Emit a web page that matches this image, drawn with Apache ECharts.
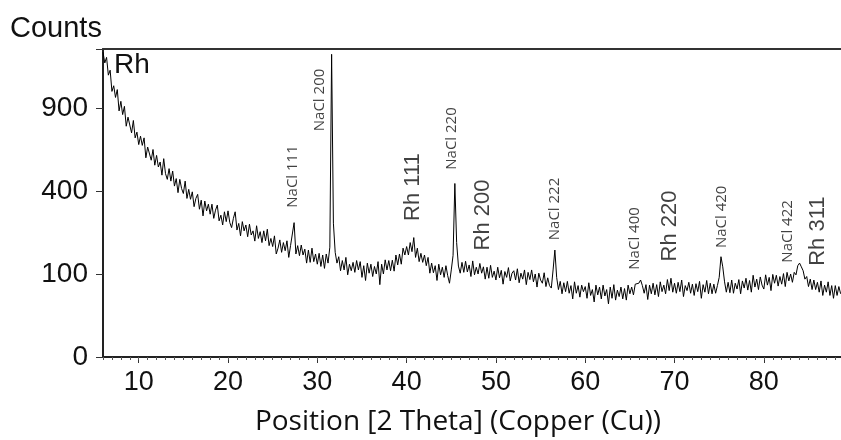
<!DOCTYPE html>
<html><head><meta charset="utf-8">
<script src="https://cdn.jsdelivr.net/npm/echarts@6/dist/echarts.min.js"></script>
<style>html,body{margin:0;padding:0;background:#fff}#c{width:841px;height:440px}</style>
</head><body><div id="c"></div>
<script>
// Scan: 2-theta from 6.0 in steps of 0.2 degrees
const scanStart = 6.0;
const scanStep = 0.2;
// Counts (one value per scan step)
const counts = [
1348,1255,1303,1153,1194,1024,1068,978,1038,879,
949,853,912,773,835,829,729,812,697,734,
655,708,650,697,576,640,635,562,625,534,
590,524,552,480,571,488,458,515,449,502,
424,462,392,458,412,388,449,365,408,361,
396,328,365,384,317,357,289,353,310,339,
296,339,279,313,335,269,292,253,306,266,
310,262,243,279,306,234,259,213,266,231,
253,210,256,216,231,195,250,204,228,190,
231,196,237,180,204,177,213,154,172,199,
159,190,164,196,144,180,185,262,154,180,
149,182,151,169,128,166,130,172,132,154,
125,156,119,151,114,154,128,175,1330,260,
159,128,146,108,135,110,144,98,125,108,
130,104,135,110,132,92,121,85,128,102,
125,94,119,100,132,76,125,100,137,110,
135,108,136,107,151,123,154,125,172,151,
177,151,190,161,207,144,172,132,156,130,
151,121,144,102,128,103,121,85,125,98,
117,92,121,96,79,110,150,437,190,120,
102,130,104,133,105,123,94,134,98,117,
100,127,102,118,88,117,90,122,92,107,
86,117,91,109,77,106,92,116,84,102,
108,86,113,80,102,88,110,76,104,87,
110,82,100,71,102,86,79,103,72,91,
74,69,110,166,92,66,83,58,80,62,
83,59,74,49,82,59,74,52,75,62,
72,50,80,55,66,44,75,56,71,49,
75,54,66,41,71,50,76,47,65,53,
71,49,68,47,75,58,71,56,77,81,
79,86,74,59,76,48,75,58,79,56,
76,53,82,62,75,58,87,64,90,61,
79,59,81,62,86,53,74,64,81,59,
77,55,78,62,83,50,76,61,85,58,
79,58,77,59,74,92,146,118,82,61,
81,60,86,59,79,67,87,58,84,69,
90,65,85,61,97,71,88,66,93,75,
67,98,75,92,64,99,79,97,73,94,
77,101,72,104,84,100,81,104,98,121,
128,118,108,88,94,72,88,66,86,66,
81,61,84,55,75,61,82,55,74,50,
74,55,72,58
];
// Axis ranges and tick labels
const xMin = 6.0, xMax = 88.64;
const yMaxCounts = 1377;
const yTickCounts = [0, 100, 400, 900];
const xTickLabels = [10, 20, 30, 40, 50, 60, 70, 80];
// Peak annotations
const peakNames = ['NaCl 111','NaCl 200','Rh 111','NaCl 220','Rh 200','NaCl 222','NaCl 400','Rh 220','NaCl 420','NaCl 422','Rh 311'];
const peakLabelTheta = [27.25, 30.27, 40.68, 45.05, 48.52, 56.58, 65.54, 69.46, 75.29, 82.68, 86.04];
const peakLabelCounts = [473, 959, 419, 693, 293, 318, 204, 249, 285, 229, 230];

const lineData = counts.map((c, i) => [scanStart + i * scanStep, Math.sqrt(c)]);
const labelData = peakNames.map((n, i) => {
  const rh = n.indexOf('Rh') === 0;
  return {
    name: n,
    value: [peakLabelTheta[i], Math.sqrt(peakLabelCounts[i])],
    label: { fontSize: rh ? 22 : 15, fontFamily: rh ? 'Liberation Sans, Arial' : 'Open Sans' }
  };
});

const chart = echarts.init(document.getElementById('c'), null, { renderer: 'canvas' });
chart.setOption({
  animation: false,
  backgroundColor: '#fff',
  grid: { left: 103, right: 0, top: 49, bottom: 83 },
  xAxis: [
    {
      type: 'value', position: 'bottom', min: xMin, max: xMax, splitNumber: 8,
      axisLine: { show: true, lineStyle: { color: '#222', width: 2 } },
      axisTick: { show: true, length: 6, lineStyle: { color: '#333', width: 1 } },
      axisLabel: {
        fontSize: 27, color: '#111', margin: 12, fontFamily: 'Liberation Sans, Arial',
        showMinLabel: false, showMaxLabel: false,
        formatter: v => (xTickLabels.indexOf(Math.round(v)) >= 0 && Math.abs(v - Math.round(v)) < 1e-6) ? String(Math.round(v)) : ''
      },
      splitLine: { show: false }
    },
    {
      type: 'value', position: 'bottom', min: xMin, max: xMax, interval: 1,
      axisLine: { show: false },
      axisTick: { show: true, length: 3, lineStyle: { color: '#555', width: 1 } },
      axisLabel: { show: false },
      splitLine: { show: false }
    },
    {
      type: 'value', position: 'top', min: xMin, max: xMax,
      axisLine: { show: true, lineStyle: { color: '#333', width: 2 } },
      axisTick: { show: false }, axisLabel: { show: false }, splitLine: { show: false }
    }
  ],
  yAxis: {
    type: 'value', min: 0, max: Math.sqrt(yMaxCounts), interval: 10,
    axisLine: { show: true, lineStyle: { color: '#222', width: 2 } },
    axisTick: { show: true, length: 7, lineStyle: { color: '#333', width: 1 } },
    axisLabel: {
      fontSize: 28, color: '#111', margin: 15, fontFamily: 'Liberation Sans, Arial',
      formatter: v => { const c = Math.round(v * v); return yTickCounts.indexOf(c) >= 0 ? String(c) : ''; }
    },
    splitLine: { show: false }
  },
  graphic: [
    { type: 'text', left: 10, top: 14, style: { text: 'Counts', fontSize: 29, fontFamily: 'Liberation Sans, Arial', fill: '#111' } },
    { type: 'text', left: 114, top: 51, style: { text: 'Rh', fontSize: 28, fontFamily: 'Liberation Sans, Arial', fill: '#111' }, z: 100 },
    { type: 'text', x: 458, y: 422, style: { text: 'Position [2 Theta] (Copper (Cu))', fontSize: 28, fontFamily: 'Open Sans', fill: '#111', align: 'center', verticalAlign: 'middle' } }
  ],
  series: [
    {
      type: 'line', xAxisIndex: 0, data: lineData, showSymbol: false, symbol: 'none',
      lineStyle: { color: '#000', width: 1 }, clip: true
    },
    {
      type: 'scatter', xAxisIndex: 0, data: labelData, symbolSize: 0, silent: true,
      label: { show: true, position: 'inside', rotate: 90, color: '#111', formatter: p => p.name, align: 'center', verticalAlign: 'middle' },
      z: 10
    }
  ]
});
</script></body></html>
